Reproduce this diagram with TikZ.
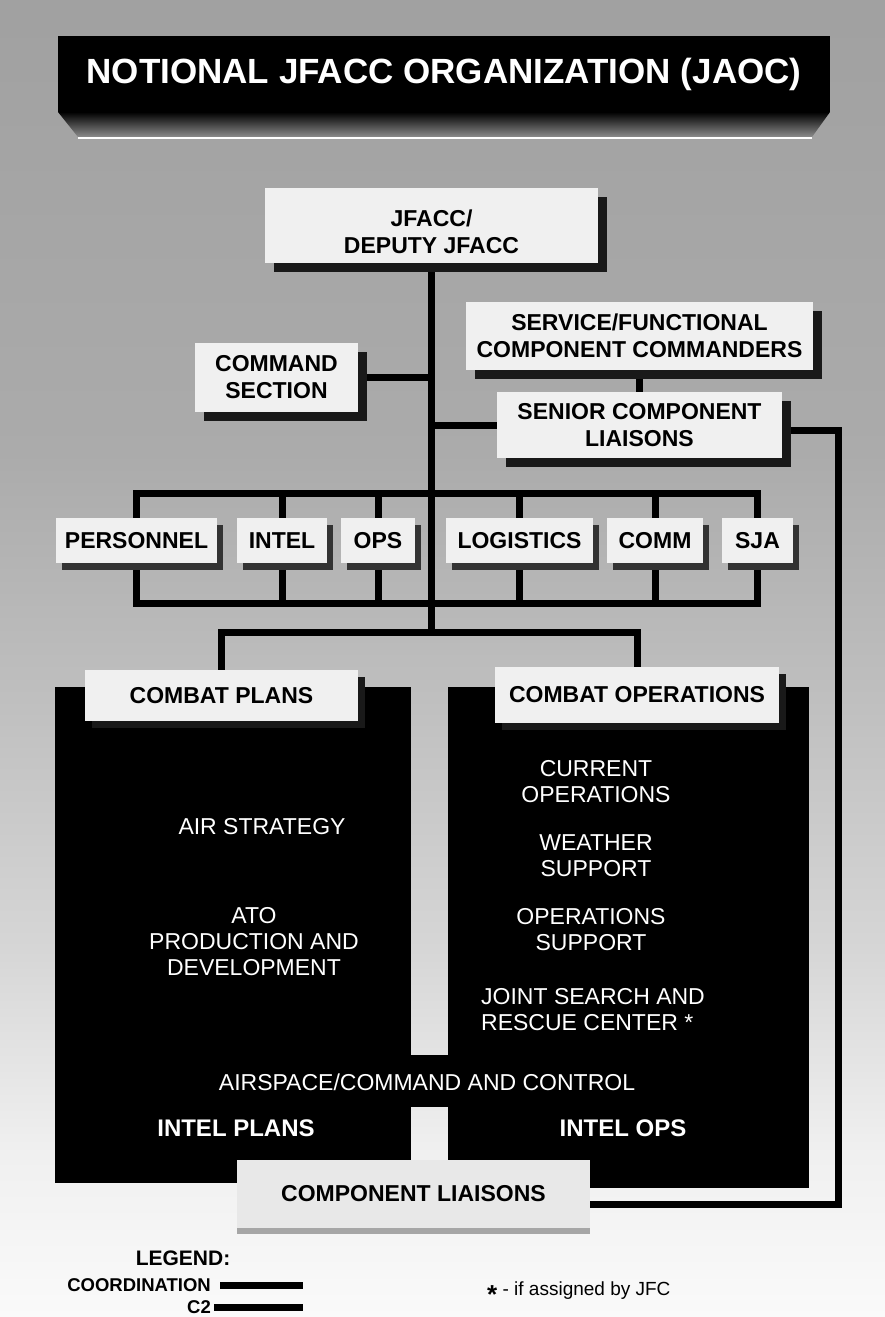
\documentclass[tikz,border=0pt]{standalone}
\usepackage{fontspec}
\setmainfont{Liberation Sans}
\usetikzlibrary{shadows}
\pgfdeclarelayer{back}
\pgfdeclarelayer{lines}
\pgfsetlayers{back,lines,main}
\pgfdeclareverticalshading{bgshade}{100bp}{color(0bp)=(black!2); color(25bp)=(black!2); color(31.3bp)=(black!6); color(38.9bp)=(black!16); color(48.4bp)=(black!25); color(57.9bp)=(black!33); color(75bp)=(black!37); color(100bp)=(black!37)}
\tikzset{
  lbox/.style={fill=black!6, inner sep=0pt, align=center, font={\bfseries\fontsize{23}{27}\selectfont}},
  lbl/.style={align=center, font={\bfseries\fontsize{23}{27}\selectfont}, inner sep=0pt},
  bigbox/.style={lbox, drop shadow={shadow xshift=9pt, shadow yshift=-9pt, fill=black!90, opacity=1}},
  staff/.style={lbox, minimum height=45pt, drop shadow={shadow xshift=6pt, shadow yshift=-7pt, fill=black!80, opacity=1}},
  hdr/.style={lbox, drop shadow={shadow xshift=7pt, shadow yshift=-7pt, fill=black!90, opacity=1}},
  clbox/.style={lbox, fill=black!9, drop shadow={shadow xshift=0pt, shadow yshift=-6pt, fill=black!35, opacity=1}},
  wtxt/.style={text=white, align=center, font={\fontsize{23}{26}\selectfont}, inner sep=0pt},
  wbold/.style={text=white, font={\bfseries\fontsize{24}{28}\selectfont}, inner sep=0pt},
  ttl/.style={text=white, font={\bfseries\fontsize{35}{40}\selectfont}, inner sep=0pt},
  wire/.style={line width=7pt, line join=miter, draw=black},
  legtxt/.style={font={\bfseries\fontsize{18.5}{22}\selectfont}, inner sep=0pt},
}
\begin{document}
\begin{tikzpicture}[x=1pt,y=-1pt]
\useasboundingbox (0,0) rectangle (885,1317);
\begin{pgfonlayer}{back}
  \shade[shading=bgshade] (0,0) rectangle (885,1317);
  % title bar
  \fill[black] (58,36) rectangle (830,112);
  \shade[top color=black, bottom color=black!45] (58,112) -- (830,112) -- (812,137) -- (78,137) -- cycle;
  \draw[white, line width=2pt] (78,138) -- (812,138);
  % black body
  \fill[black] (55,687) rectangle (411,1183);
  \fill[black] (448,687) rectangle (809,1188);
  \fill[black] (410,1055) rectangle (449,1107);
\end{pgfonlayer}

\node[ttl] (title) at (444,74) {NOTIONAL JFACC ORGANIZATION (JAOC)};

% boxes
\node[bigbox, minimum width=333pt, minimum height=75pt,
      label={[lbl, yshift=-6pt]center:{JFACC/\\DEPUTY JFACC}}] (jf) at (431.5,225.5) {};
\node[bigbox, minimum width=347pt, minimum height=68pt] (svc) at (639.5,336) {SERVICE/FUNCTIONAL\\COMPONENT COMMANDERS};
\node[bigbox, minimum width=163pt, minimum height=69pt] (cs) at (276.5,377.5) {COMMAND\\SECTION};
\node[bigbox, minimum width=285pt, minimum height=66pt] (sen) at (639.5,425) {SENIOR COMPONENT\\LIAISONS};

\node[staff, minimum width=161pt] (pers) at (136.5,540.5) {PERSONNEL};
\node[staff, minimum width=90pt] (intel) at (282,540.5) {INTEL};
\node[staff, minimum width=74pt] (ops) at (378,540.5) {OPS};
\node[staff, minimum width=147pt] (log) at (519.5,540.5) {LOGISTICS};
\node[staff, minimum width=96pt] (comm) at (655,540.5) {COMM};
\node[staff, minimum width=71pt] (sja) at (757.5,540.5) {SJA};

\node[hdr, minimum width=273pt, minimum height=51pt] (cp) at (221.5,695.5) {COMBAT PLANS};
\node[hdr, minimum width=284pt, minimum height=56pt] (co) at (637,695) {COMBAT OPERATIONS};
\node[clbox, minimum width=353pt, minimum height=68pt] (cl) at (413.5,1194) {COMPONENT LIAISONS};

% texts in black areas
\node[wtxt] (airstr) at (262,827) {AIR STRATEGY};
\node[wtxt] (ato) at (254,942) {ATO\\PRODUCTION AND\\DEVELOPMENT};
\node[wtxt] (curops) at (596,781.5) {CURRENT\\OPERATIONS};
\node[wtxt] (wx) at (596,856) {WEATHER\\SUPPORT};
\node[wtxt] (opsup) at (591,930) {OPERATIONS\\SUPPORT};
\node[wtxt, align=left, anchor=west] (jsrc) at (481,1010) {JOINT SEARCH AND\\RESCUE CENTER *};
\node[wtxt] (asc) at (427,1082) {AIRSPACE/COMMAND AND CONTROL};
\node[wbold] (ip) at (236,1128) {INTEL PLANS};
\node[wbold] (io) at (623,1128) {INTEL OPS};

% connector coordinates
\coordinate (topbus) at (431.5,493);
\coordinate (botbus) at (431.5,603);
\coordinate (busc) at (431.5,632);
\coordinate (rc1) at (838,430);
\coordinate (rc2) at (838,1204);

\begin{pgfonlayer}{lines}
  \draw[wire] (jf.south) -- (jf.south |- busc);
  \draw[wire] (cs.east) -- (cs.east -| jf.south);
  \draw[wire] (sen.west) -- (sen.west -| jf.south);
  \draw[wire] (svc.south) -- (sen.north);
  \draw[wire] (pers.north) |- (topbus) -| (sja.north);
  \draw[wire] (intel.north) -- (intel.north |- topbus);
  \draw[wire] (ops.north) -- (ops.north |- topbus);
  \draw[wire] (log.north) -- (log.north |- topbus);
  \draw[wire] (comm.north) -- (comm.north |- topbus);
  \draw[wire] (pers.south) |- (botbus) -| (sja.south);
  \draw[wire] (intel.south) -- (intel.south |- botbus);
  \draw[wire] (ops.south) -- (ops.south |- botbus);
  \draw[wire] (log.south) -- (log.south |- botbus);
  \draw[wire] (comm.south) -- (comm.south |- botbus);
  \draw[wire] (cp.north) |- (busc) -| (co.north);
  \draw[wire] (sen.east |- rc1) -- (rc1) -- (rc2) -- (cl.east |- rc2);
\end{pgfonlayer}

% legend
\node[font={\bfseries\fontsize{21}{24}\selectfont}, inner sep=0pt] (leg) at (183,1258) {LEGEND:};
\node[legtxt, anchor=east] (coord) at (211,1285) {COORDINATION};
\node[legtxt, anchor=east] (ctwo) at (211,1307) {C2};
\coordinate (legend) at (303,1300);
\draw[wire] ([xshift=9pt]coord.east) -- (coord.east -| legend);
\draw[wire] ([xshift=3pt]ctwo.east) -- (ctwo.east -| legend);

\node[anchor=base west, inner sep=0pt, font={\fontsize{19}{22}\selectfont}] (note) at (487,1295)
  {\raisebox{-8pt}{\bfseries\fontsize{26}{26}\selectfont *} - if assigned by JFC};
\end{tikzpicture}
\end{document}
